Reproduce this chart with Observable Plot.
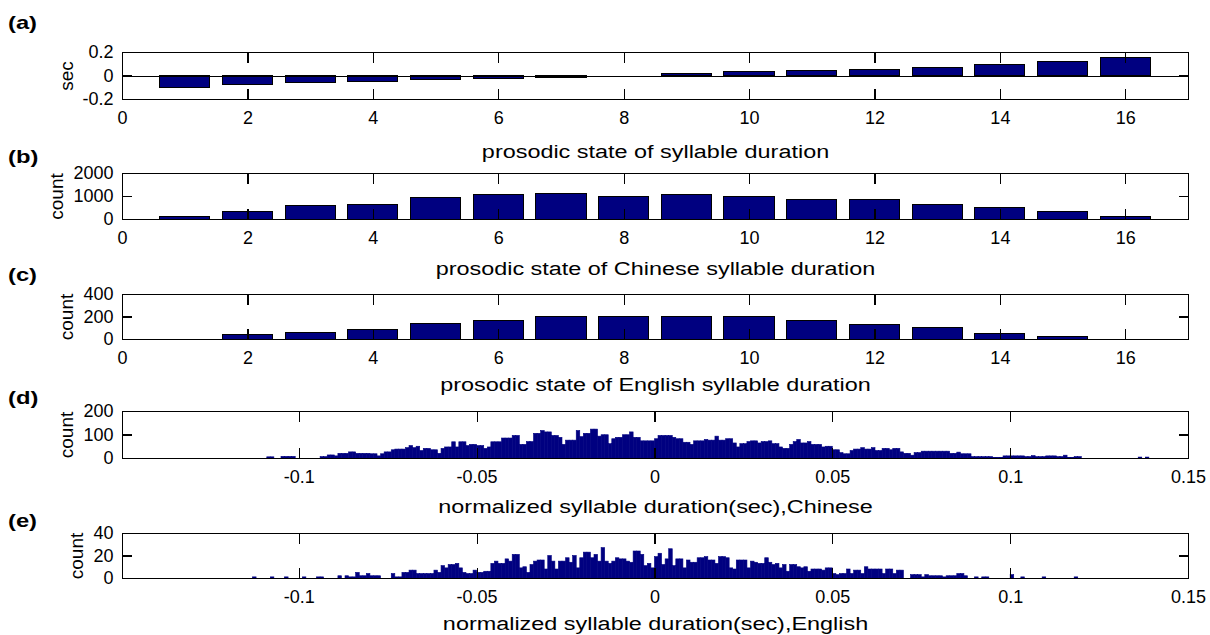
<!DOCTYPE html>
<html>
<head>
<meta charset="utf-8">
<script src="https://cdn.jsdelivr.net/npm/d3@7"></script>
<script src="https://cdn.jsdelivr.net/npm/@observablehq/plot@0.6"></script>
<style>
  html, body { margin: 0; padding: 0; background: #fff; }
  #fig { position: relative; width: 1210px; height: 635px; overflow: hidden; background: #fff; }
  #fig > svg { position: absolute; left: 0; }
  .tag { position: absolute; left: 8px; font: bold 19px "Liberation Sans", Arial, sans-serif;
         transform: scaleX(1.25); transform-origin: left center; line-height: 1; }
</style>
</head>
<body>
<div id="fig"></div>
<script>
// ---- data ----------------------------------------------------------------
// prosodic states 1..16
const states = [1, 2, 3, 4, 5, 6, 7, 8, 9, 10, 11, 12, 13, 14, 15, 16];
// (a) mean syllable duration of each prosodic state (sec)
const stateDuration = [-0.101, -0.077, -0.063, -0.049, -0.038, -0.027, -0.016, 0,
                       0.016, 0.030, 0.044, 0.055, 0.066, 0.090, 0.118, 0.153];
// (b) Chinese syllable count per state
const chineseStateCount = [100, 325, 585, 645, 930, 1050, 1130, 980,
                           1050, 980, 840, 840, 645, 510, 310, 100];
// (c) English syllable count per state
const englishStateCount = [0, 36, 59, 86, 142, 166, 197, 198,
                           199, 198, 166, 128, 98, 47, 21, 0];

// (d) histogram of normalized syllable duration, Chinese (bins of 0.001 s)
const chineseBinStart = -0.109;
const chineseHist = [
  5, 5, 0, 0, 7, 7, 7, 7, 0, 0,
  0, 0, 0, 0, 0, 6, 6, 13, 13, 9,
  20, 20, 20, 26, 26, 20, 20, 20, 20, 18,
  18, 9, 18, 26, 26, 35, 38, 38, 38, 44,
  53, 44, 50, 32, 41, 41, 35, 35, 20, 41,
  47, 47, 69, 47, 69, 69, 53, 58, 58, 53,
  53, 41, 47, 69, 69, 69, 85, 85, 85, 96,
  96, 58, 58, 70, 70, 105, 105, 117, 111, 111,
  96, 96, 88, 58, 76, 76, 76, 117, 91, 105,
  105, 123, 123, 93, 99, 99, 61, 82, 88, 88,
  99, 99, 111, 88, 88, 73, 73, 73, 73, 82,
  96, 96, 96, 96, 88, 82, 82, 67, 67, 58,
  73, 73, 73, 79, 76, 76, 93, 76, 76, 82,
  82, 64, 47, 61, 61, 70, 73, 73, 64, 70,
  70, 73, 61, 61, 47, 41, 41, 58, 70, 79,
  64, 64, 70, 58, 58, 58, 47, 50, 50, 35,
  35, 23, 18, 18, 32, 38, 38, 44, 38, 38,
  44, 32, 32, 41, 41, 35, 41, 41, 26, 20,
  20, 12, 23, 23, 29, 29, 29, 29, 29, 29,
  29, 29, 20, 20, 25, 18, 18, 18, 6, 6,
  6, 6, 6, 6, 3, 3, 3, 9, 9, 9,
  9, 9, 9, 6, 6, 10, 6, 6, 6, 9,
  9, 9, 6, 6, 12, 3, 3, 6, 6, 0,
  0, 0, 0, 0, 0, 0, 0, 0, 0, 0,
  0, 0, 0, 0, 0, 4, 0, 4, 0
];

// (e) histogram of normalized syllable duration, English (bins of 0.001 s)
const englishBinStart = -0.113;
const englishHist = [
  1, 0, 0, 0, 0, 1, 0, 0, 0, 1,
  0, 0, 0, 0, 1, 0, 0, 0, 1, 1,
  0, 0, 0, 0, 2, 0, 2, 1, 1, 5,
  2, 2, 4, 2, 2, 2, 0, 0, 0, 4,
  1, 1, 5, 5, 7, 7, 4, 4, 4, 4,
  4, 7, 5, 11, 9, 12, 12, 13, 9, 5,
  4, 4, 7, 5, 5, 6, 6, 13, 15, 13,
  13, 17, 15, 21, 21, 9, 10, 5, 12, 15,
  16, 16, 8, 20, 15, 8, 15, 15, 18, 14,
  20, 9, 18, 23, 23, 18, 21, 15, 27, 15,
  13, 15, 18, 17, 17, 15, 14, 24, 24, 21,
  11, 13, 9, 19, 22, 12, 17, 26, 11, 17,
  17, 9, 16, 14, 14, 18, 18, 19, 16, 16,
  13, 19, 19, 18, 9, 8, 16, 16, 16, 9,
  15, 14, 13, 13, 18, 14, 12, 13, 9, 12,
  6, 12, 12, 10, 9, 10, 6, 8, 8, 8,
  7, 9, 9, 4, 3, 4, 4, 8, 4, 7,
  7, 4, 10, 8, 8, 8, 8, 4, 8, 8,
  4, 7, 7, 0, 0, 3, 3, 3, 1, 3,
  2, 2, 2, 2, 1, 2, 2, 2, 4, 4,
  2, 0, 0, 1, 0, 1, 1, 0, 0, 0,
  0, 0, 0, 3, 0, 0, 1, 0, 0, 0,
  0, 0, 1, 0, 0, 0, 0, 0, 0, 0,
  0, 1
];
const binWidth = 0.001;

// axis ticks
const stateTicks = [0, 2, 4, 6, 8, 10, 12, 14, 16];
const durationTicks = [-0.1, -0.05, 0, 0.05, 0.1, 0.15];
const secTicks = [-0.2, 0, 0.2];
const chineseCountTicks = [0, 1000, 2000];
const englishCountTicks = [0, 200, 400];
const chineseHistTicks = [0, 100, 200];
const englishHistTicks = [0, 20, 40];

// ---- drawing ---------------------------------------------------------------
const W = 1210, ML = 122, MR = 22;
const MT = 12, MB = 72, TICK = 10;
const NAVY = "#000080";
const TICK_FONT = "'Liberation Sans Narrow', 'Liberation Sans', Arial, sans-serif";
const LABEL_FONT = "'Liberation Sans', Arial, sans-serif";
const STRETCH = 1.3;

const fig = document.getElementById("fig");

// boxed axes with inward tick marks on all four sides
function frameMarks(xt, yt) {
  const fmt = d => String(d);
  const crisp = {stroke: "black", strokeWidth: 1.2, shapeRendering: "crispEdges"};
  return [
    Plot.frame({stroke: "black", shapeRendering: "crispEdges"}),
    Plot.axisX(xt, {anchor: "bottom", tickSize: -TICK, tickPadding: TICK + 12, tickFormat: fmt,
                    label: null, fontSize: 18, fontFamily: TICK_FONT, ...crisp}),
    Plot.axisX(xt, {anchor: "top", tickSize: -TICK, text: null, label: null, ...crisp}),
    Plot.axisY(yt, {anchor: "left", tickSize: -TICK, tickPadding: TICK + 9, tickFormat: fmt,
                    label: null, fontSize: 18, fontFamily: TICK_FONT, ...crisp}),
    Plot.axisY(yt, {anchor: "right", tickSize: -TICK, text: null, label: null, ...crisp})
  ];
}

function panel({frameTop, fh, xDomain, yDomain, xt, yt, marks, xLabel, xLabelDy, yLabel, yLabelX, tag, tagY}) {
  const svg = Plot.plot({
    width: W,
    height: MT + fh + MB,
    marginLeft: ML, marginRight: MR, marginTop: MT, marginBottom: MB,
    style: {background: "transparent", overflow: "visible", color: "black"},
    x: {domain: xDomain, axis: null},
    y: {domain: yDomain, axis: null},
    marks: [
      ...marks,
      ...frameMarks(xt, yt),
      Plot.text([xLabel], {text: d => d, frameAnchor: "bottom", dy: xLabelDy, lineAnchor: "middle",
                           textAnchor: "middle", fontSize: 18, fontFamily: LABEL_FONT, fill: "black"}),
      Plot.text([yLabel], {text: d => d, frameAnchor: "left", dx: -(ML - yLabelX), rotate: -90,
                           textAnchor: "middle", lineAnchor: "middle",
                           fontSize: 19, fontFamily: LABEL_FONT, fill: "black"})
    ]
  });
  svg.style.top = (frameTop - MT) + "px";
  fig.appendChild(svg);
  // keep the short tick strokes sharp
  svg.querySelectorAll('g[aria-label$="-axis tick"]').forEach(g => g.setAttribute("shape-rendering", "crispEdges"));
  // the horizontal axis title is set in a wide face
  svg.querySelectorAll("text").forEach(t => {
    if (t.textContent !== xLabel) return;
    const w = t.getComputedTextLength();
    t.setAttribute("textLength", (w * STRETCH).toFixed(1));
    t.setAttribute("lengthAdjust", "spacingAndGlyphs");
  });
  const div = document.createElement("div");
  div.className = "tag";
  div.textContent = tag;
  div.style.top = (tagY - 10) + "px";
  fig.appendChild(div);
}

const stateRows = values => states.map((s, i) => ({s, v: values[i]}));
const barMark = values => Plot.rectY(stateRows(values), {
  x1: d => d.s - 0.4, x2: d => d.s + 0.4, y1: 0, y2: "v",
  fill: NAVY, stroke: "black", strokeWidth: 1, shapeRendering: "crispEdges"
});
const histRows = (start, counts) => counts
  .map((c, i) => ({x1: start + i * binWidth, x2: start + (i + 1) * binWidth, c}))
  .filter(d => d.c > 0);
const histMark = (start, counts) => Plot.rectY(histRows(start, counts), {
  x1: "x1", x2: "x2", y1: 0, y2: "c", fill: NAVY, stroke: NAVY, strokeWidth: 0.6
});

panel({
  frameTop: 52, fh: 47, xDomain: [0, 17], yDomain: [-0.2, 0.2], xt: stateTicks, yt: secTicks,
  marks: [barMark(stateDuration), Plot.ruleY([0], {stroke: "black", shapeRendering: "crispEdges"})],
  xLabel: "prosodic state of syllable duration", xLabelDy: 53,
  yLabel: "sec", yLabelX: 66, tag: "(a)", tagY: 23
});
panel({
  frameTop: 173, fh: 46, xDomain: [0, 17], yDomain: [0, 2000], xt: stateTicks, yt: chineseCountTicks,
  marks: [barMark(chineseStateCount)],
  xLabel: "prosodic state of Chinese syllable duration", xLabelDy: 50,
  yLabel: "count", yLabelX: 56, tag: "(b)", tagY: 157
});
panel({
  frameTop: 294, fh: 45, xDomain: [0, 17], yDomain: [0, 400], xt: stateTicks, yt: englishCountTicks,
  marks: [barMark(englishStateCount)],
  xLabel: "prosodic state of English syllable duration", xLabelDy: 46,
  yLabel: "count", yLabelX: 66, tag: "(c)", tagY: 275
});
panel({
  frameTop: 411, fh: 47, xDomain: [-0.1497, 0.15], yDomain: [0, 200], xt: durationTicks, yt: chineseHistTicks,
  marks: [histMark(chineseBinStart, chineseHist)],
  xLabel: "normalized syllable duration(sec),Chinese", xLabelDy: 49,
  yLabel: "count", yLabelX: 66, tag: "(d)", tagY: 398
});
panel({
  frameTop: 533, fh: 45, xDomain: [-0.1497, 0.15], yDomain: [0, 40], xt: durationTicks, yt: englishHistTicks,
  marks: [histMark(englishBinStart, englishHist)],
  xLabel: "normalized syllable duration(sec),English", xLabelDy: 46,
  yLabel: "count", yLabelX: 76, tag: "(e)", tagY: 521
});
</script>
</body>
</html>
